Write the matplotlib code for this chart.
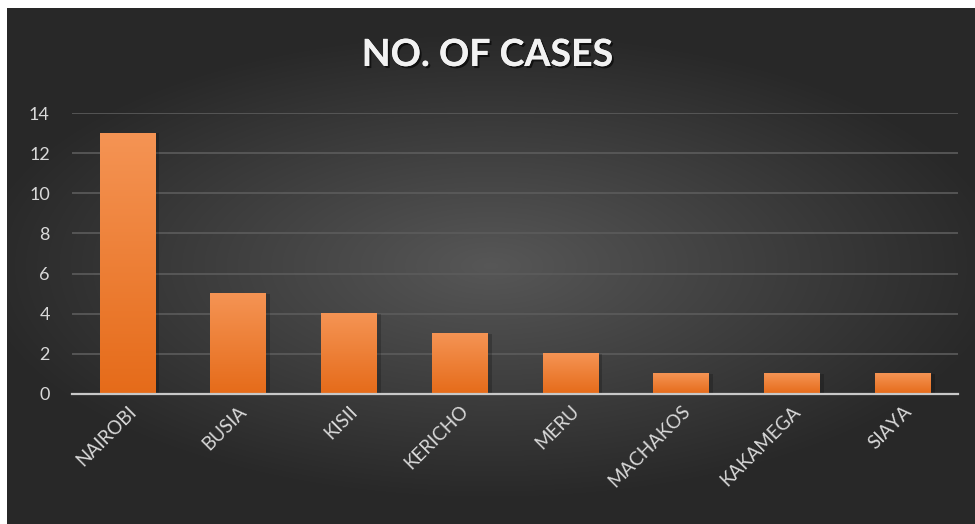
"""Столбчатая диаграмма: число случаев по округам (тёмная тема в стиле Excel)."""

import matplotlib

matplotlib.use("Agg")
import matplotlib.pyplot as plt
import matplotlib.patheffects as pe
import numpy as np

COUNTIES = ["NAIROBI", "BUSIA", "KISII", "KERICHO", "MERU",
            "MACHAKOS", "KAKAMEGA", "SIAYA"]
CASES = [13, 5, 4, 3, 2, 1, 1, 1]
Y_TICKS = [0, 2, 4, 6, 8, 10, 12, 14]
TITLE = "NO. OF CASES"

W, H = 975, 524
plt.rcParams["font.family"] = ["Lato", "DejaVu Sans"]

fig = plt.figure(figsize=(W / 100, H / 100), dpi=100, facecolor="white")

# фон: радиальный градиент (светлее в центре)
bg = fig.add_axes([7 / W, 0, 1 - 7 / W, 1 - 8 / H])
yy, xx = np.mgrid[-1:1:300j, -1:1:600j]
r = np.sqrt(xx ** 2 + (yy / 0.85) ** 2)
shade = np.clip(0.34 - 0.17 * r, 0.16, 0.34)
bg.imshow(np.dstack([shade] * 3), aspect="auto", extent=[0, 1, 0, 1],
          interpolation="bicubic")
bg.set_axis_off()

ax = fig.add_axes([72 / W, 1 - 394 / H, (958 - 72) / W, (394 - 113) / H])
ax.patch.set_alpha(0)
x = np.arange(len(COUNTIES))
bars = ax.bar(x, CASES, width=0.5, color="#ee7a2c", zorder=3)

# градиент на столбцах + лёгкая тень
grad = np.linspace(0, 1, 256).reshape(-1, 1, 1)
top_c = np.array([0.96, 0.58, 0.33])
bot_c = np.array([0.90, 0.42, 0.10])
img = bot_c + (top_c - bot_c) * grad
for b in bars:
    x0, w, h = b.get_x(), b.get_width(), b.get_height()
    ax.bar(x0 + w / 2 + 0.025, h, width=w + 0.03, color="black", alpha=0.2,
           zorder=2)
    ax.imshow(img, origin="lower", extent=[x0, x0 + w, 0, h],
              aspect="auto", zorder=4)

ax.set_xlim(-0.5, len(COUNTIES) - 0.5)
ax.set_ylim(0, 14)
ax.set_yticks(Y_TICKS)
ax.yaxis.grid(True, color="#5c5c5c", lw=1.2, zorder=1)
ax.set_axisbelow(True)
for s in ("left", "right", "top"):
    ax.spines[s].set_visible(False)
ax.spines["bottom"].set_color("#c8c8c8")
ax.spines["bottom"].set_linewidth(1.6)
ax.spines["bottom"].set_zorder(5)
ax.tick_params(axis="y", length=0, pad=16, labelcolor="#d9d9d9", labelsize=13)
ax.tick_params(axis="x", length=0, pad=6, labelcolor="#d9d9d9", labelsize=13.5)
ax.set_xticks(x)
ax.set_xticklabels(COUNTIES, rotation=45, ha="right", rotation_mode="anchor")

fig.text(0.5, 1 - 55 / H, TITLE, ha="center", va="center", color="#f2f2f2",
         fontsize=27, fontweight="bold",
         path_effects=[pe.withSimplePatchShadow(offset=(1.5, -1.5),
                                                shadow_rgbFace="black",
                                                alpha=0.6),
                       pe.Normal()])

fig.savefig("out.png", dpi=100, facecolor="white")
